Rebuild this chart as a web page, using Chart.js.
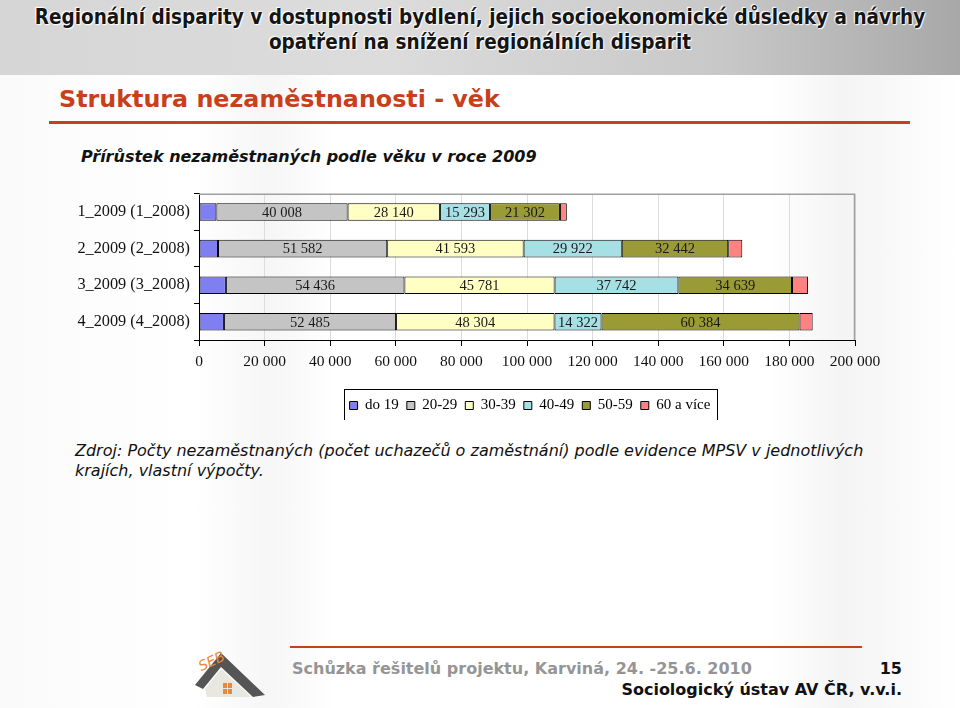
<!DOCTYPE html>
<html lang="cs">
<head>
<meta charset="utf-8">
<script src="https://cdn.jsdelivr.net/npm/chart.js@4/dist/chart.umd.min.js"></script>
<style>
  html, body { margin: 0; padding: 0; }
  body { width: 960px; height: 708px; position: relative; overflow: hidden;
         background: linear-gradient(90deg, #fafafa 0%, #ffffff 20%, #f6f6f6 28%, #ffffff 35%, #ffffff 80%, #f4f4f4 88%, #ffffff 100%);
         font-family: "DejaVu Sans", sans-serif; }
  #band { position: absolute; left: 0; top: 0; width: 960px; height: 75px;
          background: linear-gradient(90deg, #d6d6d6 0%, #dcdcdc 40%, #c8c8c8 75%, #a8a8a8 100%); }
  #band div { position: absolute; left: 0; width: 960px; text-align: center;
              font-family: "DejaVu Sans Condensed", "DejaVu Sans", sans-serif; font-weight: bold;
              font-size: 20.5px; line-height: 24px; color: #151515;
              text-shadow: 0 0 2px #fff, 1px 1px 1px #fff, -1px -1px 1px #fff; }
  #title { position: absolute; left: 59px; top: 85px; font-weight: bold; font-size: 23.8px; line-height: 28px; color: #c8401a; white-space: nowrap; }
  #rule1 { position: absolute; left: 49px; top: 121px; width: 861px; height: 3px; background: #c8401a; }
  #sub { position: absolute; left: 81px; top: 147px; font-weight: bold; font-style: italic; font-size: 16px; line-height: 20px; color: #111; white-space: nowrap; }
  #chartwrap { position: absolute; left: 60px; top: 180px; width: 840px; height: 240px; }
  #src { position: absolute; left: 75px; top: 441px; font-style: italic; font-size: 16px; color: #111; line-height: 19.5px; white-space: nowrap; }
  #rule2 { position: absolute; left: 290px; top: 646px; width: 572px; height: 2px; background: #c8401a; }
  #foot1 { position: absolute; left: 292px; top: 659px; font-weight: bold; font-size: 16px; color: #959595; white-space: nowrap; }
  #pg { position: absolute; right: 58px; top: 659px; font-weight: bold; font-size: 16px; color: #111; }
  #foot2 { position: absolute; right: 58px; top: 680px; font-weight: bold; font-size: 16px; color: #111; white-space: nowrap; }
  #logo { position: absolute; left: 193px; top: 645px; width: 75px; height: 55px; }
</style>
</head>
<body>
<div id="band">
  <div style="top:5px">Regionální disparity v dostupnosti bydlení, jejich socioekonomické důsledky a návrhy</div>
  <div style="top:30px">opatření na snížení regionálních disparit</div>
</div>
<div id="title">Struktura nezaměstnanosti - věk</div>
<div id="rule1"></div>
<div id="sub">Přírůstek nezaměstnaných podle věku v roce 2009</div>
<div id="chartwrap"><canvas id="c" width="840" height="240"></canvas></div>
<div id="src">Zdroj: Počty nezaměstnaných (počet uchazečů o zaměstnání) podle evidence MPSV v jednotlivých<br>krajích, vlastní výpočty.</div>
<svg id="logo" viewBox="0 0 75 55">
  <path d="M2 40 L28 8 L72 50 L60 52 L28 22 L10 44 Z" fill="#555"/>
  <path d="M12 44 L28 24 L58 52 L14 52 Z" fill="#e8e8e0"/>
  <rect x="30" y="38" width="4" height="5" fill="#e88a3a"/><rect x="35" y="38" width="4" height="5" fill="#e88a3a"/>
  <rect x="30" y="44" width="4" height="5" fill="#e88a3a"/><rect x="35" y="44" width="4" height="5" fill="#e88a3a"/>
  <text x="6" y="24" font-size="14" fill="#e88a3a" font-style="italic" transform="rotate(-25 12 20)">SEB</text>
</svg>
<div id="rule2"></div>
<div id="foot1">Schůzka řešitelů projektu, Karviná, 24. -25.6. 2010</div>
<div id="pg">15</div>
<div id="foot2">Sociologický ústav AV ČR, v.v.i.</div>

<script>
const categories = ["1_2009 (1_2008)", "2_2009 (2_2008)", "3_2009 (3_2008)", "4_2009 (4_2008)"];
const seriesNames = ["do 19", "20-29", "30-39", "40-49", "50-59", "60 a více"];
const do19   = [5300, 5800, 8200, 7600];
const age20  = [40008, 51582, 54436, 52485];
const age30  = [28140, 41593, 45781, 48304];
const age40  = [15293, 29922, 37742, 14322];
const age50  = [21302, 32442, 34639, 60384];
const age60  = [2100, 4300, 4900, 4000];
const seriesColors = ["#7f7ff2", "#c4c4c4", "#ffffc4", "#a6dfe4", "#9a9a36", "#ff8282"];
const labeledSeries = [1, 2, 3, 4];
const xTicks = [0, 20000, 40000, 60000, 80000, 100000, 120000, 140000, 160000, 180000, 200000];

const fmt = v => String(Math.round(v)).replace(/\B(?=(\d{3})+(?!\d))/g, " ");
const serif = "'Liberation Serif', 'Times New Roman', serif";
const allSeries = [do19, age20, age30, age40, age50, age60];

const datasets = allSeries.map((d, i) => ({
  label: seriesNames[i],
  data: d,
  backgroundColor: seriesColors[i],
  borderColor: "#000",
  borderWidth: 1,
  borderSkipped: false,
  categoryPercentage: 0.48,
  barPercentage: 1.0
}));

const frame = {
  id: "frame",
  afterLayout(chart) {
    const lg = chart.legend;
    if (!lg) return;
    const a = chart.chartArea;
    const shift = (a.left + a.right) / 2 - (lg.left + lg.right) / 2 + 3;
    lg.left += shift; lg.right += shift;
    lg.top += 3; lg.bottom += 3;
  },
  beforeDatasetsDraw(chart) {
    const {ctx, chartArea: a} = chart;
    ctx.save();
    ctx.strokeStyle = "#a0a0a0"; ctx.lineWidth = 1.5;
    ctx.beginPath();
    ctx.moveTo(a.left, a.top + 0.5); ctx.lineTo(a.right - 0.5, a.top + 0.5); ctx.lineTo(a.right - 0.5, a.bottom);
    ctx.stroke();
    ctx.restore();
  },
  afterDatasetsDraw(chart) {
    const {ctx} = chart;
    ctx.save();
    ctx.font = "14.5px " + serif;
    ctx.fillStyle = "#1a1a1a";
    ctx.textAlign = "center"; ctx.textBaseline = "middle";
    labeledSeries.forEach(di => {
      const meta = chart.getDatasetMeta(di);
      meta.data.forEach((bar, j) => {
        const x = (bar.x + bar.base) / 2;
        ctx.fillText(fmt(chart.data.datasets[di].data[j]), x, bar.y + 1);
      });
    });
    ctx.restore();
  },
  afterDraw(chart) {
    const lg = chart.legend;
    if (!lg || !lg.legendHitBoxes.length) return;
    const boxes = lg.legendHitBoxes;
    const l = boxes[0].left - 6, r = boxes[boxes.length - 1].left + boxes[boxes.length - 1].width + 6;
    const t = boxes[0].top - 9, b = boxes[0].top + boxes[0].height + 9;
    const ctx = chart.ctx;
    ctx.save();
    ctx.strokeStyle = "#000"; ctx.lineWidth = 1;
    ctx.strokeRect(Math.round(l) + 0.5, Math.round(t) + 0.5, Math.round(r - l), Math.round(b - t));
    ctx.restore();
  }
};

new Chart(document.getElementById("c"), {
  type: "bar",
  data: { labels: categories, datasets },
  options: {
    indexAxis: "y",
    responsive: false,
    animation: false,
    layout: { padding: { top: 3, right: 45, left: 0, bottom: 0 } },
    scales: {
      x: {
        stacked: true, min: 0, max: 200000,
        afterBuildTicks: s => { s.ticks = xTicks.map(v => ({ value: v })); },
        afterFit: s => { s.height = 47; },
        border: { color: "#000", width: 1 },
        grid: { color: "#dcdcdc", tickColor: "#000", tickLength: 6, drawTicks: true },
        ticks: { color: "#111", font: { family: serif, size: 15.5 }, padding: 7, maxRotation: 0, autoSkip: false,
                 callback: v => fmt(v) }
      },
      y: {
        stacked: true,
        afterFit: s => { s.width = 139; },
        border: { color: "#000", width: 1 },
        grid: { display: true, drawOnChartArea: false, offset: true, tickLength: 5, tickColor: "#000" },
        ticks: { color: "#111", font: { family: serif, size: 16.3 }, padding: 4 }
      }
    },
    plugins: {
      legend: {
        position: "bottom",
        labels: { boxWidth: 8, boxHeight: 8, color: "#111", font: { family: serif, size: 15 }, padding: 8,
                  generateLabels: chart => chart.data.datasets.map((ds, i) => ({
                    text: ds.label, fillStyle: ds.backgroundColor, strokeStyle: "#000", lineWidth: 1,
                    datasetIndex: i, hidden: false }))
        }
      },
      tooltip: { enabled: false }
    }
  },
  plugins: [frame]
});
</script>
</body>
</html>
